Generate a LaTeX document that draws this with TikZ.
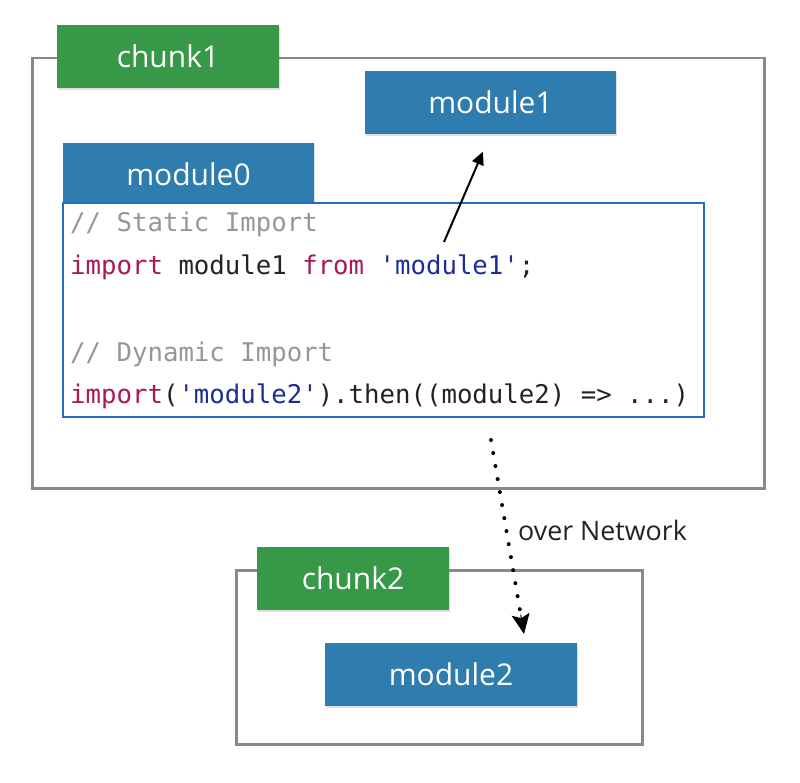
\documentclass[tikz,border=0pt]{standalone}
\usepackage{fontspec}
\setmainfont{Open Sans}
\newfontfamily\codefont{DejaVu Sans Mono}
\usetikzlibrary{arrows.meta,shadows,calc}
\definecolor{chunkgreen}{RGB}{55,152,72}
\definecolor{modblue}{RGB}{47,125,174}
\definecolor{framegray}{RGB}{136,137,141}
\definecolor{codeborder}{RGB}{30,110,195}
\definecolor{kw}{RGB}{170,25,85}
\definecolor{str}{RGB}{28,45,150}
\definecolor{cmt}{RGB}{150,150,150}
\definecolor{plain}{RGB}{35,35,35}
\tikzset{
  frame/.style={draw=framegray, line width=2.5pt, fill=white},
  labelbox/.style={fill=#1, text=white, inner sep=0pt, font=\fontsize{30}{33}\selectfont,
     drop shadow={shadow xshift=1pt, shadow yshift=-2pt, opacity=0.25}},
  chunklabel/.style={labelbox=chunkgreen},
  modbox/.style={labelbox=modblue},
  codeline/.style={anchor=base west, inner sep=0pt, text=plain, font=\codefont\fontsize{25.7}{28}\selectfont},
}
\begin{document}
\begin{tikzpicture}[x=1pt,y=-1pt]
\useasboundingbox (0,0) rectangle (800,783);
% chunk1 frame
\node[frame, minimum width=732pt, minimum height=430pt, anchor=north west] (chunkA) at (31,57) {};
\node[chunklabel, minimum width=222pt, minimum height=63pt] (chunkAlbl) at (168,56.5) {chunk1};
\node[modbox, minimum width=251pt, minimum height=63pt] (module1) at (490.5,102.5) {module1};
\node[modbox, minimum width=251pt, minimum height=62pt] (module0) at (188.5,174) {module0};
% code box
\node[draw=codeborder, line width=2pt, fill=white, minimum width=641pt, minimum height=214pt, anchor=north west] (code) at (62,202) {};
\node[codeline] (l1) at (70,232) {\textcolor{cmt}{// Static Import}};
\node[codeline] (l2) at (70,275) {\textcolor{kw}{import} module1 \textcolor{kw}{from} \textcolor{str}{'module1'};};
\node[codeline] (l3) at (70,361) {\textcolor{cmt}{// Dynamic Import}};
\node[codeline] (l4) at (70,403) {\textcolor{kw}{import}(\textcolor{str}{'module2'}).then((module2) => ...)};
% static import arrow
\coordinate (s1) at (444,242);
\draw[line width=2pt, -{Triangle[length=13pt,width=12pt]}, shorten >=19pt] (s1) -- (module1.south);
% chunk2
\node[frame, minimum width=406pt, minimum height=174pt, anchor=north west] (chunkB) at (235,569) {};
\node[chunklabel, minimum width=192pt, minimum height=63pt] (chunkBlbl) at (353,578.5) {chunk2};
\node[modbox, minimum width=252pt, minimum height=63pt] (module2) at (451,674.5) {module2};
% dynamic import arrow
\coordinate (d1) at (491,440);
\coordinate (d2) at (524,634);
\draw[line width=4pt, line cap=round, dash pattern=on 0pt off 13.2pt] (d1) -- ($(d1)!0.92!(d2)$);
\draw[-{Stealth[length=20pt,width=18pt,inset=4pt]}, line width=1pt] ($(d1)!0.9!(d2)$) -- (d2);
\node[anchor=west, inner sep=0pt, font=\fontsize{26.8}{30}\selectfont, text=plain] (net) at (518,530) {over Network};
\end{tikzpicture}
\end{document}
